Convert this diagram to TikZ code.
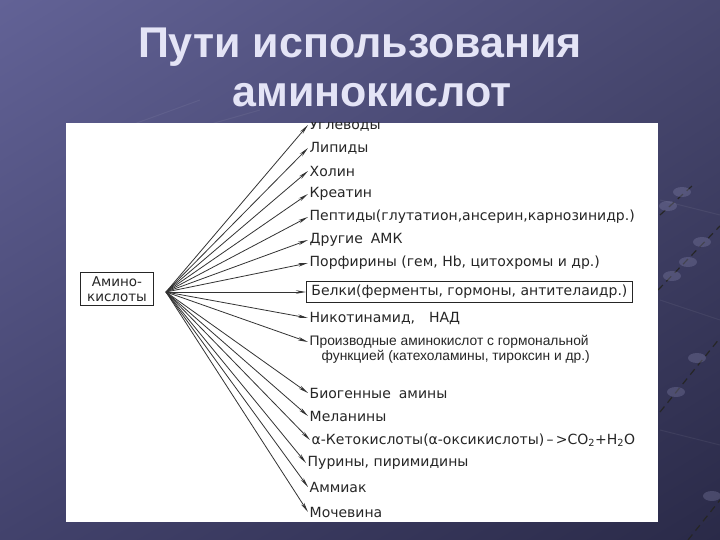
\documentclass[tikz,border=0pt]{standalone}
\usepackage{fontspec}
\setmainfont{DejaVu Sans}
\newfontfamily\titlefont{Liberation Sans}
\newfontfamily\narrowfont{Liberation Sans}
\usepackage{tikz}
\usetikzlibrary{arrows.meta,shadings}
\definecolor{bgtl}{RGB}{98,98,150}
\definecolor{bgtr}{RGB}{72,72,112}
\definecolor{bgbl}{RGB}{66,66,108}
\definecolor{bgbr}{RGB}{42,42,72}
\definecolor{titlecol}{RGB}{228,228,246}
\definecolor{dotcol}{RGB}{140,140,180}
\tikzset{
  titletext/.style={anchor=base,text=titlecol,font=\titlefont\bfseries\fontsize{43}{48}\selectfont},
  lbl/.style={anchor=west,inner sep=1.5pt,text=black!85,font=\fontsize{14}{16}\selectfont},
  narrowlbl/.style={anchor=west,inner sep=1.5pt,text=black!85,font=\narrowfont\fontsize{13.8}{15}\selectfont},
  fan/.style={draw=black!80,line width=0.8pt,-{Stealth[length=10pt,width=3.5pt]}},
  molbond/.style={draw=black!85,line width=1.2pt,dash pattern=on 7pt off 5pt},
  molatom/.style={fill=dotcol,fill opacity=0.3}
}
\begin{document}
\begin{tikzpicture}[x=1pt,y=-1pt]
\useasboundingbox (0,0) rectangle (720,540);
\shade[upper left=bgtl,upper right=bgtr,lower left=bgbl,lower right=bgbr] (0,0) rectangle (720,540);

\draw[white,opacity=0.06,line width=1pt] (90,140) -- (200,100) (120,150) -- (260,110) (660,200) -- (720,215) (660,300) -- (720,320) (660,430) -- (720,445);
\draw[molbond] (660,215) -- (692,186);
\draw[molbond] (658,290) -- (720,226);
\draw[molbond] (660,412) -- (720,338);
\draw[molbond] (688,540) -- (720,500);
\foreach \ax/\ay in {682/192,668/206,702/242,688/262,672/276,697/358,676/392,712/496}
  \fill[molatom] (\ax,\ay) ellipse (9pt and 5pt);

\node[titletext] (title1) at (360,58) {Пути использования};
\node[titletext] (title2) at (372,107) {аминокислот};

\fill[white] (66,123) rectangle (658,522);
\begin{scope}
\clip (66,123) rectangle (658,522);
\node[draw=black!85,line width=0.9pt,align=center,inner xsep=7pt,inner ysep=4pt,font=\fontsize{13.5}{15.5}\selectfont,text=black!85] (amino) at (117,289) {Амино-\\кислоты};
\coordinate (apex) at (166,292);

\node[lbl] (ugl) at (308,125) {Углеводы};
\node[lbl] (lip) at (308,148) {Липиды};
\node[lbl] (hol) at (308,171) {Холин};
\node[lbl] (kre) at (308,194) {Креатин};
\node[lbl] (pep) at (308,217) {Пептиды(глутатион,ансерин,карнозинидр.)};
\node[lbl] (dru) at (308,240) {Другие\hspace{8pt}АМК};
\node[lbl] (por) at (308,263) {Порфирины (гем, Hb, цитохромы и др.)};
\node[lbl,draw=black!85,line width=0.8pt,inner xsep=5pt,inner ysep=3.5pt] (bel) at (306,292) {Белки(ферменты, гормоны, антителаидр.)};
\node[lbl] (nik) at (308,318) {Никотинамид,\hspace{14pt}НАД};
\node[narrowlbl] (pro) at (308,342) {Производные аминокислот с гормональной};
\node[narrowlbl] (fun) at (320,357) {функцией (катехоламины, тироксин и др.)};
\node[lbl] (bio) at (308,393) {Биогенные\hspace{8pt}амины};
\node[lbl] (mel) at (308,416) {Меланины};
\node[lbl] (ket) at (310,440) {α-Кетокислоты(α-оксикислоты)\,--\,>CO\textsubscript{2}+H\textsubscript{2}O};
\node[lbl] (pur) at (306,463) {Пурины, пиримидины};
\node[lbl] (amm) at (308,487) {Аммиак};
\node[lbl] (moc) at (308,512) {Мочевина};

\foreach \target in {ugl,lip,hol,kre,pep,dru,por,bel,nik,pro,bio,mel,ket,pur,amm,moc}
  \draw[fan] (apex) -- (\target.west);
\end{scope}
\end{tikzpicture}
\end{document}
